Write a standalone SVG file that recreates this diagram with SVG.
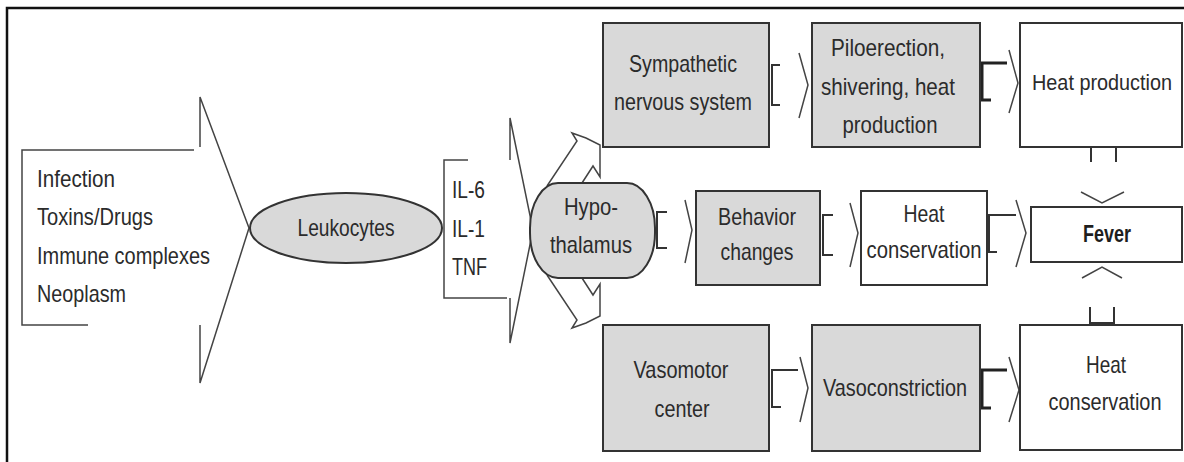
<svg xmlns="http://www.w3.org/2000/svg" width="1184" height="462" viewBox="0 0 1184 462">
<style>
.box{stroke:#333;stroke-width:2}
.g{fill:#d9d9d9}
.w{fill:#fff}
.t{font-family:'Liberation Sans',Arial,sans-serif;font-size:24px;fill:#2b2b2b;text-anchor:middle}
.tl{text-anchor:start}
.b{font-weight:bold;fill:#1e1e1e}
.ln{fill:none;stroke:#333;stroke-width:2}
.thk{fill:none;stroke:#222;stroke-width:3}
.thin{fill:none;stroke:#444;stroke-width:1.5}
</style>
<rect width="1184" height="462" fill="#fff"/>
<path d="M7 462 V8 H1184" fill="none" stroke="#111" stroke-width="2.5"/>

<g id="connectors">
  <path class="thin" d="M88 325 H22 V150 H194"/>
  <path class="thin" d="M200 147 V97 L249 228 L200 383 V325"/>
  <path class="thin" d="M468 160 H444 V298 H507"/>
  <path class="thin" d="M510 160 V118 L533 230 L510 343 V298"/>
  <path class="thin" fill="#fff" d="M547 186 L577 141 L572 133 L586 138 L600 145 L600 177 L593 166 L582 183"/>
  <path class="thin" fill="#fff" d="M547 275 L577 320 L572 328 L586 323 L600 316 L600 284 L593 295 L582 278"/>
  <path class="ln" d="M780 65 H772 V105 H780"/>
  <path class="thin" d="M799 53 L808 85 L799 118"/>
  <path class="thk" d="M1007 63 H982 V100 H991"/>
  <path class="thin" d="M1009 50 L1018 83 L1009 113"/>
  <path class="ln" d="M667 212 H657 V248 H667"/>
  <path class="thin" d="M685 200 L692 230 L685 263"/>
  <path class="ln" d="M833 215 H823 V255 H833"/>
  <path class="thin" d="M850 203 L858 233 L850 267"/>
  <path class="ln" d="M1016 215 H989 V252 H997"/>
  <path class="thin" d="M1016 200 L1026 233 L1016 267"/>
  <path class="ln" d="M798 370 H772 V407 H781"/>
  <path class="thin" d="M800 357 L808 388 L800 422"/>
  <path class="thk" d="M1007 370 H982 V408 H991"/>
  <path class="thin" d="M1009 357 L1019 390 L1009 422"/>
  <path class="ln" d="M1091 147 V162 M1116 147 V162"/>
  <path class="thin" d="M1081 192 L1102 203 L1124 192"/>
  <path class="ln" d="M1090 307 V323 H1114 V307"/>
  <path class="thin" d="M1082 278 L1102 267 L1122 278"/>
</g>

<g id="causes">
  <text class="t tl" x="37" y="187" textLength="78" lengthAdjust="spacingAndGlyphs">Infection</text>
  <text class="t tl" x="37" y="225" textLength="116" lengthAdjust="spacingAndGlyphs">Toxins/Drugs</text>
  <text class="t tl" x="37" y="264" textLength="173" lengthAdjust="spacingAndGlyphs">Immune complexes</text>
  <text class="t tl" x="37" y="302" textLength="89" lengthAdjust="spacingAndGlyphs">Neoplasm</text>
</g>
<g id="leukocytes">
  <ellipse class="box g" cx="346" cy="228" rx="96" ry="35"/>
  <text class="t" x="346" y="236" textLength="97" lengthAdjust="spacingAndGlyphs">Leukocytes</text>
</g>
<g id="cytokines">
  <text class="t tl" x="452" y="198" textLength="33" lengthAdjust="spacingAndGlyphs">IL-6</text>
  <text class="t tl" x="452" y="237" textLength="33" lengthAdjust="spacingAndGlyphs">IL-1</text>
  <text class="t tl" x="452" y="275" textLength="35" lengthAdjust="spacingAndGlyphs">TNF</text>
</g>
<g id="hypothalamus">
  <rect class="box g" x="530" y="183" width="125" height="95" rx="28" ry="45"/>
  <text class="t" x="591" y="215" textLength="54" lengthAdjust="spacingAndGlyphs">Hypo-</text>
  <text class="t" x="591" y="253" textLength="82" lengthAdjust="spacingAndGlyphs">thalamus</text>
</g>
<g id="sympathetic">
  <rect class="box g" x="603" y="23" width="166" height="124"/>
  <text class="t" x="683" y="72" textLength="108" lengthAdjust="spacingAndGlyphs">Sympathetic</text>
  <text class="t" x="683" y="110" textLength="138" lengthAdjust="spacingAndGlyphs">nervous system</text>
</g>
<g id="piloerection">
  <rect class="box g" x="812" y="23" width="168" height="124"/>
  <text class="t" x="888" y="56" textLength="114" lengthAdjust="spacingAndGlyphs">Piloerection,</text>
  <text class="t" x="888" y="95" textLength="134" lengthAdjust="spacingAndGlyphs">shivering, heat</text>
  <text class="t" x="890" y="133" textLength="95" lengthAdjust="spacingAndGlyphs">production</text>
</g>
<g id="heat-production">
  <rect class="box w" x="1020" y="23" width="162" height="124"/>
  <text class="t" x="1102" y="90" font-size="22" style="font-size:22px" textLength="140" lengthAdjust="spacingAndGlyphs">Heat production</text>
</g>
<g id="behavior">
  <rect class="box g" x="696" y="191" width="124" height="94"/>
  <text class="t" x="757" y="225" textLength="78" lengthAdjust="spacingAndGlyphs">Behavior</text>
  <text class="t" x="757" y="260" textLength="73" lengthAdjust="spacingAndGlyphs">changes</text>
</g>
<g id="heat-conservation-1">
  <rect class="box w" x="861" y="191" width="126" height="94"/>
  <text class="t" x="924" y="222" textLength="41" lengthAdjust="spacingAndGlyphs">Heat</text>
  <text class="t" x="924" y="258" textLength="115" lengthAdjust="spacingAndGlyphs">conservation</text>
</g>
<g id="fever">
  <rect class="box w" x="1031" y="207" width="151" height="55"/>
  <text class="t b" x="1107" y="242" textLength="48" lengthAdjust="spacingAndGlyphs">Fever</text>
</g>
<g id="vasomotor">
  <rect class="box g" x="603" y="325" width="166" height="126"/>
  <text class="t" x="681" y="378" textLength="95" lengthAdjust="spacingAndGlyphs">Vasomotor</text>
  <text class="t" x="682" y="417" textLength="55" lengthAdjust="spacingAndGlyphs">center</text>
</g>
<g id="vasoconstriction">
  <rect class="box g" x="812" y="325" width="168" height="126"/>
  <text class="t" x="895" y="396" textLength="144" lengthAdjust="spacingAndGlyphs">Vasoconstriction</text>
</g>
<g id="heat-conservation-2">
  <rect class="box w" x="1020" y="325" width="162" height="125"/>
  <text class="t" x="1106" y="373" textLength="40" lengthAdjust="spacingAndGlyphs">Heat</text>
  <text class="t" x="1105" y="410" textLength="113" lengthAdjust="spacingAndGlyphs">conservation</text>
</g>
</svg>
